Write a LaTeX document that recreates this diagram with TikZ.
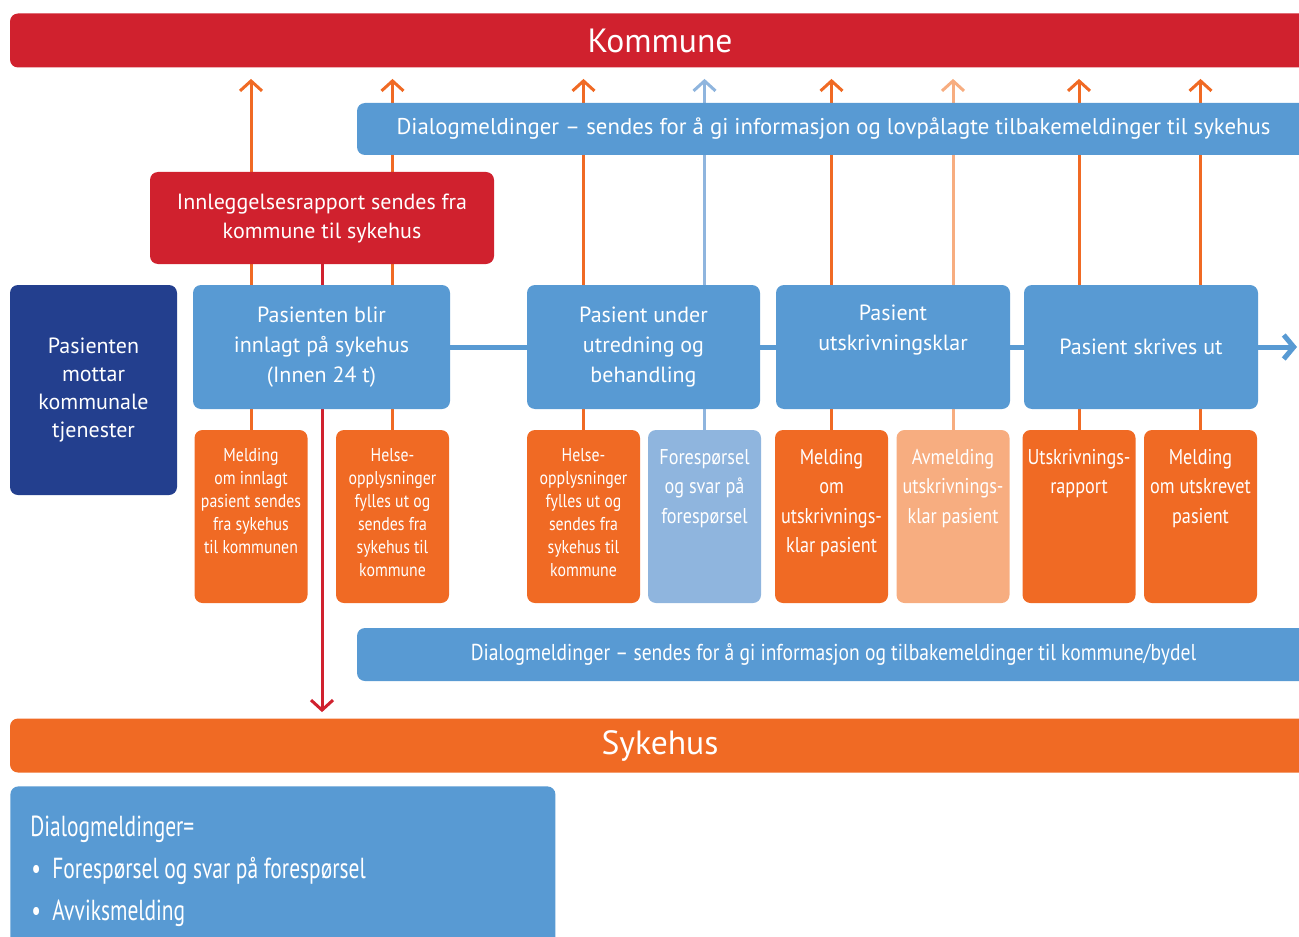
\documentclass[tikz,border=0pt]{standalone}
\usepackage{fontspec}
\setmainfont{PT Sans}
\newfontfamily\narrowfont[FakeStretch=0.85]{PT Sans}
\newfontfamily\legendfont[FakeStretch=0.74]{PT Sans}
\usetikzlibrary{arrows.meta,backgrounds}

\definecolor{kred}{RGB}{208,33,46}
\definecolor{hblue}{RGB}{88,154,211}
\definecolor{hdark}{RGB}{35,63,142}
\definecolor{horange}{RGB}{240,106,36}
\definecolor{hlightblue}{RGB}{143,181,222}
\definecolor{hlightorange}{RGB}{247,173,128}

\newcommand{\msgtxt}[2]{\parbox[c][86.5pt][t]{56.5pt}{\centering\rule{0pt}{#1}#2\par}}
\newcommand{\tightspace}{\spaceskip=2.8pt\relax}

\tikzset{
  box/.style={fill=#1, text=white, rounded corners=4pt, inner sep=0pt, align=center},
  bar/.style={box=#1, minimum width=650pt, minimum height=27pt, font=\fontsize{16.8}{18}\selectfont},
  phase/.style={box=hblue, minimum height=62pt, font=\fontsize{11}{15}\selectfont},
  msg/.style={box=#1, minimum width=56.5pt, minimum height=86.5pt},
  small/.style={font=\narrowfont\fontsize{9.3}{11.5}\selectfont},
  large/.style={font=\narrowfont\fontsize{10.7}{14.75}\selectfont},
  up/.style={draw=#1, line width=1.5pt, -{Straight Barb[length=5pt,width=11pt]}, shorten >=5.5pt},
  down/.style={draw=kred, line width=1.5pt, -{Straight Barb[length=5pt,width=11pt]}, shorten >=3pt},
  flow/.style={draw=hblue, line width=2.5pt, -{Straight Barb[length=5pt,width=12pt]}}
}

\begin{document}
\begin{tikzpicture}[x=0.5pt,y=-0.5pt]
\useasboundingbox (0,0) rectangle (1299,936);

\node[bar=kred] (kommune) at (660,40.5) {Kommune};
\node[box=hblue, minimum width=476.5pt, minimum height=26pt, font=\fontsize{11.4}{13}\selectfont] (dialogtop) at (833.5,129) {Dialogmeldinger – sendes for å gi informasjon og lovpålagte tilbakemeldinger til sykehus};
\node[box=kred, minimum width=172pt, minimum height=46pt, font=\fontsize{11}{14.5}\selectfont] (innl) at (322,218) {Innleggelsesrapport sendes fra\\kommune til sykehus};

\node[box=hdark, minimum width=83.5pt, minimum height=105pt, font=\fontsize{11}{14}\selectfont] (mottar) at (93.5,390) {Pasienten\\mottar\\kommunale\\tjenester};
\node[phase, minimum width=128.5pt] (phase1) at (321.5,347) {Pasienten blir\\innlagt på sykehus\\(Innen 24 t)};
\node[phase, minimum width=116.5pt] (phase2) at (643.5,347) {Pasient under\\utredning og\\behandling};
\node[phase, minimum width=117pt] (phase3) at (893,347) {Pasient\\utskrivningsklar\\\strut};
\node[phase, minimum width=117pt] (phase4) at (1141,347) {Pasient skrives ut};
\coordinate (out) at (1297,347);

\node[msg=horange, small] (s1) at (251,516.5) {\msgtxt{15.5pt}{Melding\\om innlagt\\pasient sendes\\fra sykehus\\til kommunen}};
\node[msg=horange, small] (s2) at (392.5,516.5) {\msgtxt{15.5pt}{Helse-\\opplysninger\\fylles ut og\\sendes fra\\sykehus til\\kommune}};
\node[msg=horange, small] (s3) at (583.5,516.5) {\msgtxt{15.5pt}{Helse-\\opplysninger\\fylles ut og\\sendes fra\\sykehus til\\kommune}};
\node[msg=hlightblue, large] (s4) at (704.5,516.5) {\msgtxt{17pt}{Forespørsel\\og svar på\\forespørsel}};
\node[msg=horange, large] (s5) at (831.5,516.5) {\msgtxt{17pt}{Melding\\om\\utskrivnings-\\klar pasient}};
\node[msg=hlightorange, large] (s6) at (953,516.5) {\msgtxt{17pt}{Avmelding\\utskrivnings-\\klar pasient}};
\node[msg=horange, large] (s7) at (1079,516.5) {\msgtxt{17pt}{Utskrivnings-\\rapport}};
\node[msg=horange, large] (s8) at (1200.5,516.5) {\msgtxt{17pt}{Melding\\om utskrevet\\pasient}};

\node[box=hblue, minimum width=476.5pt, minimum height=26.5pt, font=\narrowfont\fontsize{11.5}{13}\selectfont] (dialogbot) at (833.5,654.5) {Dialogmeldinger – sendes for å gi informasjon og tilbakemeldinger til kommune/bydel};
\node[bar=horange] (sykehus) at (660,745.5) {Sykehus};

\node[box=hblue, anchor=north west, inner xsep=10pt, text width=252.5pt, minimum height=85pt, align=left, font=\legendfont\fontsize{14.5}{21}\selectfont] (legend) at (10,786) {\tightspace Dialogmeldinger=\\\makebox[11pt][l]{\hspace{0.5pt}•}Forespørsel og svar på forespørsel\\\makebox[11pt][l]{\hspace{0.5pt}•}Avviksmelding};

\begin{scope}[on background layer]
\draw[up=horange] (s1.north) -- (s1.north |- kommune.south);
\draw[up=horange] (s2.north) -- (s2.north |- kommune.south);
\draw[up=horange] (s3.north) -- (s3.north |- kommune.south);
\draw[up=hlightblue] (s4.north) -- (s4.north |- kommune.south);
\draw[up=horange] (s5.north) -- (s5.north |- kommune.south);
\draw[up=hlightorange] (s6.north) -- (s6.north |- kommune.south);
\draw[up=horange] (s7.north) -- (s7.north |- kommune.south);
\draw[up=horange] (s8.north) -- (s8.north |- kommune.south);
\draw[down] (innl.south) -- (innl.south |- sykehus.north);
\draw[flow] (phase1.east) -- (out);
\end{scope}
\end{tikzpicture}
\end{document}
